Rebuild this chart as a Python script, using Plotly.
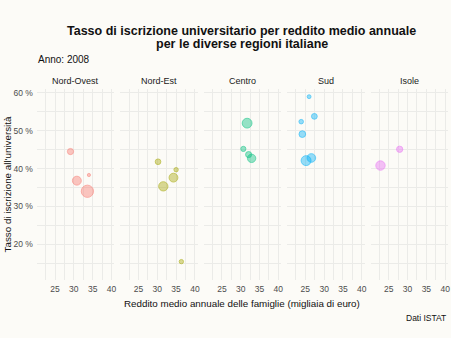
import numpy as np
import plotly.graph_objects as go

# --- data: ISTAT 2008, university enrolment rate vs mean household income ---
aree = ["Nord-Ovest", "Nord-Est", "Centro", "Sud", "Isole"]

regioni = {
    "Nord-Ovest": ["Piemonte", "Valle d'Aosta", "Liguria", "Lombardia"],
    "Nord-Est": ["Bolzano", "Trento", "Veneto", "Friuli-Venezia Giulia", "Emilia-Romagna"],
    "Centro": ["Toscana", "Umbria", "Marche", "Lazio"],
    "Sud": ["Abruzzo", "Molise", "Campania", "Puglia", "Basilicata", "Calabria"],
    "Isole": ["Sicilia", "Sardegna"],
}

# mean annual household income (thousands of euro)
reddito = {
    "Nord-Ovest": [30.8, 34.0, 29.1, 33.6],
    "Nord-Est": [36.4, 35.0, 31.6, 30.2, 34.3],
    "Centro": [32.9, 30.7, 32.1, 31.7],
    "Sud": [27.4, 26.0, 25.2, 26.6, 23.9, 24.2],
    "Isole": [22.8, 27.9],
}

# university enrolment rate (%)
tasso = {
    "Nord-Ovest": [36.8, 38.3, 44.5, 34.0],
    "Nord-Est": [15.4, 39.7, 35.3, 41.8, 37.6],
    "Centro": [42.7, 45.2, 43.7, 52.0],
    "Sud": [53.8, 59.0, 42.1, 42.8, 52.4, 49.1],
    "Isole": [40.8, 45.1],
}

# resident population (millions)
popolazione = {
    "Nord-Ovest": [4.4, 0.13, 1.6, 9.7],
    "Nord-Est": [0.5, 0.52, 4.9, 1.23, 4.3],
    "Centro": [3.7, 0.9, 1.55, 5.6],
    "Sud": [1.3, 0.32, 5.8, 4.1, 0.59, 2.0],
    "Isole": [5.0, 1.67],
}

colori = ["#F8766D", "#A3A500", "#00BF7D", "#00B0F6", "#E76BF3"]

x_ticks = [25, 30, 35, 40]
y_ticks = [20, 30, 40, 50, 60]
y_ticktext = [f"{v} %" for v in y_ticks]

# --- page geometry (451 x 338) ---
W, H = 451, 338
BG = "#FCFBF7"
GRID = "#EBEBE8"
FONT = "Liberation Sans, Arial, sans-serif"


def px_x(p):
    return p / W


def px_y(p):
    return 1 - p / H


panel_left0, panel_step, panel_w = 37, 83.8, 78
panel_top, panel_bottom = 88, 280
x_range = [20.16, 40.8]
y_range = [10.5, 61.1]


def rgba(hex_col, a):
    h = hex_col.lstrip("#")
    r, g, b = int(h[0:2], 16), int(h[2:4], 16), int(h[4:6], 16)
    return f"rgba({r},{g},{b},{a})"


def diametro(pop):
    return 2 + 3.3 * np.sqrt(np.asarray(pop))


fig = go.Figure()

for i, area in enumerate(aree):
    k = "" if i == 0 else str(i + 1)
    fig.add_trace(go.Scatter(
        x=reddito[area], y=tasso[area],
        text=regioni[area],
        mode="markers",
        xaxis="x" + k, yaxis="y" + k,
        marker=dict(
            size=diametro(popolazione[area]),
            sizemode="diameter",
            color=rgba(colori[i], 0.58),
            line=dict(color=rgba(colori[i], 0.78), width=1),
        ),
        showlegend=False,
        hovertemplate="%{text}<br>%{x} k€ – %{y} %<extra></extra>",
    ))

    left = panel_left0 + panel_step * i
    fig.update_layout({
        "xaxis" + k: dict(
            domain=[px_x(left), px_x(left + panel_w)],
            anchor="y" + k,
            range=x_range,
            tickmode="array", tickvals=x_ticks,
            ticks="", showline=False, zeroline=False,
            showgrid=True, gridcolor=GRID, gridwidth=1,
            minor=dict(tickvals=[22.5, 27.5, 32.5, 37.5], showgrid=True,
                       gridcolor=GRID, gridwidth=0.8),
            tickfont=dict(family=FONT, size=8.5, color="#4D4D4D"),
            ticklabelstandoff=2,
        ),
        "yaxis" + k: dict(
            domain=[px_y(panel_bottom), px_y(panel_top)],
            anchor="x" + k,
            range=y_range,
            tickmode="array", tickvals=y_ticks, ticktext=y_ticktext,
            showticklabels=(i == 0),
            ticks="", showline=False, zeroline=False,
            showgrid=True, gridcolor=GRID, gridwidth=1,
            minor=dict(tickvals=[15, 25, 35, 45, 55], showgrid=True,
                       gridcolor=GRID, gridwidth=0.8),
            tickfont=dict(family=FONT, size=8.5, color="#4D4D4D"),
            ticklabelstandoff=3,
        ),
    })

annotations = []

# facet strip labels
for i, area in enumerate(aree):
    cx = panel_left0 + panel_step * i + panel_w / 2
    annotations.append(dict(
        x=px_x(cx), y=px_y(80), xref="paper", yref="paper",
        text=area, showarrow=False, xanchor="center", yanchor="middle",
        font=dict(family=FONT, size=9, color="#1A1A1A"),
    ))

# title (two lines)
for txt, py in [("Tasso di iscrizione universitario per reddito medio annuale", 30),
                ("per le diverse regioni italiane", 43)]:
    annotations.append(dict(
        x=px_x(243), y=px_y(py), xref="paper", yref="paper",
        text=f"<b>{txt}</b>", showarrow=False, xanchor="center", yanchor="middle",
        font=dict(family=FONT, size=12.5, color="#111111"),
    ))

# subtitle
annotations.append(dict(
    x=px_x(36), y=px_y(59), xref="paper", yref="paper",
    text="Anno: 2008", showarrow=False, xanchor="left", yanchor="middle",
    font=dict(family=FONT, size=10, color="#111111"),
))

# axis titles
annotations.append(dict(
    x=px_x(243.5), y=px_y(303), xref="paper", yref="paper",
    text="Reddito medio annuale delle famiglie (migliaia di euro)",
    showarrow=False, xanchor="center", yanchor="middle",
    font=dict(family=FONT, size=9.8, color="#111111"),
))
annotations.append(dict(
    x=px_x(7), y=px_y(184), xref="paper", yref="paper",
    text="Tasso di iscrizione all'università", textangle=-90,
    showarrow=False, xanchor="center", yanchor="middle",
    font=dict(family=FONT, size=9.8, color="#111111"),
))

# caption
annotations.append(dict(
    x=px_x(450), y=px_y(318), xref="paper", yref="paper",
    text="Dati ISTAT", showarrow=False, xanchor="right", yanchor="middle",
    font=dict(family=FONT, size=8.5, color="#111111"),
))

fig.update_layout(
    width=W, height=H,
    margin=dict(l=0, r=0, t=0, b=0),
    paper_bgcolor=BG, plot_bgcolor=BG,
    annotations=annotations,
    font=dict(family=FONT),
)

fig.write_html("out.html", include_plotlyjs=True, config={"displayModeBar": False})
